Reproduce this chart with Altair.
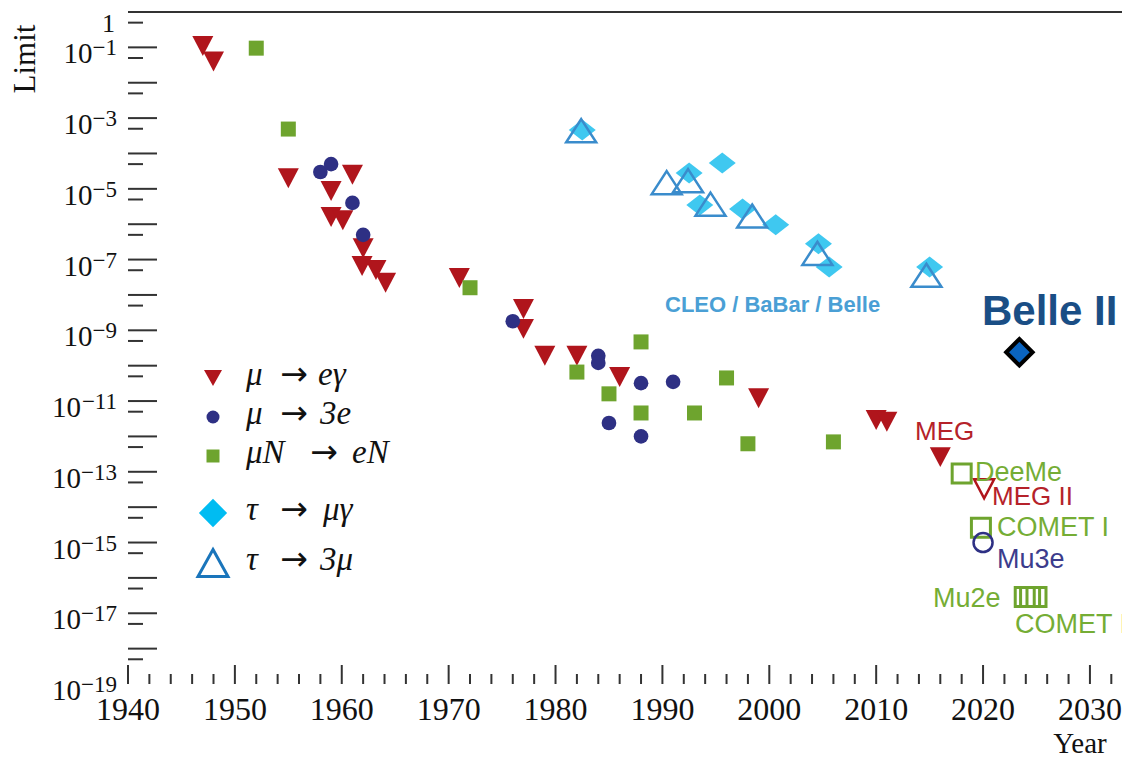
import altair as alt
import pandas as pd

# ---------------- data ----------------
# mu -> e gamma (filled red down-triangles)
meg_years = [1947, 1948, 1955, 1961, 1959, 1959, 1960.1, 1962, 1961.9, 1963.2, 1964.1,
             1971, 1977, 1977, 1979, 1982, 1986, 1999, 2010, 2011, 2016]
meg_vals = [1.1e-1, 4e-2, 2e-5, 2.5e-5, 8.7e-6, 1.6e-6, 1.3e-6, 2.1e-7, 6.6e-8, 5.1e-8, 2.2e-8,
            3e-8, 4e-9, 1.1e-9, 1.9e-10, 1.9e-10, 4.8e-11, 1.2e-11, 2.9e-12, 2.6e-12, 2.6e-13]

# mu -> 3e (navy circles)
m3e_years = [1958, 1959, 1961, 1962, 1976, 1984, 1984, 1988, 1991, 1985, 1988]
m3e_vals = [3e-5, 5e-5, 4e-6, 5e-7, 1.8e-9, 1.9e-10, 1.2e-10, 3.2e-11, 3.5e-11, 2.4e-12, 1e-12]

# mu N -> e N (green squares)
mue_years = [1952, 1955, 1972, 1982, 1988, 1985, 1988, 1993, 1996, 1998, 2006]
mue_vals = [9.5e-2, 4.9e-4, 1.6e-8, 6.6e-11, 4.7e-10, 1.6e-11, 4.6e-12, 4.6e-12, 4.5e-11, 6.2e-13, 7e-13]

# tau -> mu gamma (cyan diamonds)
tmg_years = [1982.5, 1992.5, 1995.6, 1993.5, 1997.5, 2000.6, 2004.6, 2005.6, 2015.0]
tmg_vals = [4.6e-4, 2.8e-5, 5.4e-5, 3.5e-6, 2.7e-6, 9.6e-7, 2.8e-7, 6.2e-8, 6.2e-8]

# tau -> 3 mu (open blue triangles)
t3m_years = [1982.4, 1990.4, 1992.4, 1994.5, 1998.4, 2004.5, 2014.7]
t3m_vals = [4.4e-4, 1.5e-5, 1.7e-5, 3.7e-6, 1.7e-6, 1.5e-7, 3.6e-8]

# future projections
megII_years = [2020.1]
megII_vals = [3.3e-14]
conv_future_years = [2018.0, 2019.8, 2023.9, 2024.4, 2025.0]
conv_future_vals = [9e-14, 2.6e-15, 2.9e-17, 2.9e-17, 2.9e-17]
mu3e_years = [2020.0]
mu3e_vals = [1e-15]
belle2_years = [2023.4]
belle2_vals = [2.4e-10]

# axis tick values
x_major = list(range(1940, 2031, 10))
x_minor = [y for y in range(1942, 2034, 2) if y % 10 != 0]
y_major_exp = list(range(0, -19, -1))
y_minor_exp = list(range(-1, -20, -1))
y_label_exp = list(range(-1, -20, -2))

# legend entries: (left part, right part)
legend_left = ["\u03bc", "\u03bc", "\u03bcN", "\u03c4", "\u03c4"]
legend_right = ["e\u03b3", "3e", "eN", "\u03bc\u03b3", "3\u03bc"]

# ---------------- layout ----------------
W, H = 994, 672
xscale = alt.Scale(domain=[1940, 2033.0], nice=False, zero=False)
yscale = alt.Scale(type="log", domain=[1e-19, 1], nice=False)
AX = "#333333"
INK = "#111111"

RED = "#b0151c"
NAVY = "#2e3084"
GREEN = "#6ea42e"
CYAN = "#3fc8f0"
TBLUE = "#3a8ccc"

TRI_DOWN = "M-1,-0.95L1,-0.95L0,0.95Z"
TRI_UP = "M0,-0.77L1,0.77L-1,0.77Z"
DIAM = "M0,-0.78L1,0L0,0.78L-1,0Z"


def pts(years, vals, shape, size, color=None, filled=True, stroke=None, sw=0, fill=None):
    df = pd.DataFrame({"year": years, "val": vals})
    props = dict(shape=shape, size=size, filled=filled, opacity=1, strokeWidth=sw)
    if filled:
        props["fill"] = fill if fill else color
        if stroke:
            props["stroke"] = stroke
    else:
        props["stroke"] = stroke if stroke else color
        props["fill"] = "transparent"
    return alt.Chart(df).mark_point(**props).encode(
        x=alt.X("year:Q", scale=xscale, axis=None),
        y=alt.Y("val:Q", scale=yscale, axis=None),
    )


def txt(text, x, y, color, size, font, weight="normal", align="left",
        baseline="middle", angle=0, style="normal"):
    return alt.Chart(pd.DataFrame({"t": [text]})).mark_text(
        align=align, baseline=baseline, font=font, fontSize=size,
        fontWeight=weight, color=color, angle=angle, fontStyle=style,
    ).encode(x=alt.value(x), y=alt.value(y), text="t:N")


def sym(x, y, shape, size, color, filled=True, sw=0):
    props = dict(shape=shape, size=size, filled=filled, opacity=1, strokeWidth=sw)
    if filled:
        props["fill"] = color
    else:
        props["stroke"] = color
        props["fill"] = "transparent"
    return alt.Chart(pd.DataFrame({"a": [0]})).mark_point(**props).encode(
        x=alt.value(x), y=alt.value(y))


# ---------- axes & ticks ----------
xmaj_df = pd.DataFrame({"year": x_major})
xmin_df = pd.DataFrame({"year": x_minor})
ymaj_df = pd.DataFrame({"val": [10.0 ** e for e in y_major_exp]})
ymin_df = pd.DataFrame({"val": [5 * 10.0 ** e for e in y_minor_exp]})

x_axis = alt.Axis(labels=False, ticks=False, domainColor=AX, domainWidth=2,
                  grid=False, title=None)
y_axis = alt.Axis(labels=False, ticks=False, domain=True, domainColor=AX,
                  domainWidth=2, grid=False, title=None)

xmaj = alt.Chart(xmaj_df).mark_rule(color=AX, strokeWidth=2).encode(
    x=alt.X("year:Q", scale=xscale, axis=x_axis),
    y=alt.value(H), y2=alt.value(H - 19))
xmin = alt.Chart(xmin_df).mark_rule(color=AX, strokeWidth=2).encode(
    x=alt.X("year:Q", scale=xscale, axis=None),
    y=alt.value(H), y2=alt.value(H - 10))
xlab = alt.Chart(xmaj_df).transform_calculate(
    lab="toString(datum.year)"
).mark_text(align="center", baseline="alphabetic", dy=36,
            font="Liberation Serif", fontSize=32, color=INK).encode(
    x=alt.X("year:Q", scale=xscale, axis=None),
    y=alt.value(H), text="lab:N")
ymaj = alt.Chart(ymaj_df).mark_rule(color=AX, strokeWidth=2).encode(
    y=alt.Y("val:Q", scale=yscale, axis=y_axis),
    x=alt.value(0), x2=alt.value(29))
ymin = alt.Chart(ymin_df).mark_rule(color=AX, strokeWidth=2).encode(
    y=alt.Y("val:Q", scale=yscale, axis=None),
    x=alt.value(0), x2=alt.value(15))
top_line = alt.Chart(pd.DataFrame({"a": [0]})).mark_rule(color=AX, strokeWidth=2).encode(
    x=alt.value(0), x2=alt.value(W), y=alt.value(0))

# y tick labels: "10" + raised exponent
ylab_df = pd.DataFrame({"e": y_label_exp})
ylab_df["val"] = [10.0 ** e for e in y_label_exp]
EXP_SIZE = 23
ten = alt.Chart(ylab_df).transform_calculate(
    nd="length(toString(abs(datum.e)))",
    xp=f"-11 - {EXP_SIZE}*(0.564 + 0.5*datum.nd)",
).mark_text(text="10", align="right", baseline="alphabetic", dy=16,
            font="Liberation Serif", fontSize=29, color=INK).encode(
    x=alt.X("xp:Q", scale=None),
    y=alt.Y("val:Q", scale=yscale, axis=None))
expo = alt.Chart(ylab_df).transform_calculate(
    lab="'\u2212' + toString(abs(datum.e))"
).mark_text(align="right", baseline="alphabetic", dy=8,
            font="Liberation Serif", fontSize=EXP_SIZE, color=INK).encode(
    x=alt.value(-11),
    y=alt.Y("val:Q", scale=yscale, axis=None),
    text="lab:N")
one = txt("1", -13, 20, INK, 26, "Liberation Serif", baseline="alphabetic",
          align="right")

limit_title = txt("Limit", -102, 47, INK, 31, "Liberation Serif", angle=270,
                  align="center")
year_title = txt("Year", 952, 741, INK, 29, "Liberation Serif", align="center",
                 baseline="alphabetic")

# ---------- data layers ----------
l_meg = pts(meg_years, meg_vals, TRI_DOWN, 441, RED)
l_m3e = pts(m3e_years, m3e_vals, "circle", 215, NAVY)
l_mue = pts(mue_years, mue_vals, "square", 225, GREEN)
l_tmg = pts(tmg_years, tmg_vals, DIAM, 729, CYAN)
l_t3m = pts(t3m_years, t3m_vals, TRI_UP, 900, TBLUE, filled=False, sw=2.5)
l_megII = pts(megII_years, megII_vals, TRI_DOWN, 400, RED, filled=False, sw=2.5)
l_conv = pts(conv_future_years, conv_future_vals, "square", 361, GREEN, filled=False, sw=3)
l_mu3e = pts(mu3e_years, mu3e_vals, "circle", 361, NAVY, filled=False, sw=2.5)
l_belle2 = pts(belle2_years, belle2_vals, "diamond", 700, fill="#0a64c0",
               stroke="#000000", sw=4)

# ---------- legend ----------
LEG_FONT = "Liberation Serif"
row_y = [366, 405, 444, 501, 551]
arrow_x = [166, 166, 196, 166, 166]
right_x = [190, 192, 224, 195, 192]
legend = [
    sym(85, row_y[0], "M-1,-0.9L1,-0.9L0,0.9Z", 324, RED),
    sym(85, row_y[1], "circle", 169, NAVY),
    sym(85, row_y[2], "square", 169, GREEN),
    sym(85, row_y[3], "diamond", 800, "#00bcf2"),
    sym(85, row_y[4], "M0,-0.9L1,0.9L-1,0.9Z", 900, "#1a75bb", filled=False, sw=3),
]
for i in range(5):
    legend.append(txt(legend_left[i], 118, row_y[i] + 7, INK, 33, LEG_FONT,
                      style="italic", baseline="alphabetic"))
    legend.append(txt("\u2192", arrow_x[i], row_y[i] + 7, INK, 33, "DejaVu Sans",
                      align="center", baseline="alphabetic"))
    legend.append(txt(legend_right[i], right_x[i], row_y[i] + 7, INK, 33, LEG_FONT,
                      style="italic", baseline="alphabetic"))

# ---------- annotations ----------
SANS = "Liberation Sans"
LG = "#75ad35"
annots = [
    txt("CLEO / BaBar / Belle", 537, 293, "#4a9fd5", 22, SANS, weight="bold"),
    txt("Belle II", 854, 300, "#1a4e85", 42, SANS, weight="bold"),
    txt("MEG", 787, 420, "#b5222a", 26, SANS),
    txt("DeeMe", 847, 461, LG, 27, SANS),
    txt("MEG II", 864, 485, "#b5222a", 26, SANS),
    txt("COMET I", 869, 516, LG, 27, SANS),
    txt("Mu3e", 869, 548, "#3c3c8c", 27, SANS),
    txt("Mu2e", 805, 587, LG, 27, SANS),
    txt("COMET II", 887, 613, LG, 27, SANS),
]

chart = alt.layer(
    xmaj, xmin, xlab, ymaj, ymin, top_line, ten, expo, one, limit_title, year_title,
    l_meg, l_m3e, l_mue, l_tmg, l_t3m, l_megII, l_conv, l_mu3e, l_belle2,
    *legend, *annots,
).properties(
    width=W, height=H,
    autosize=alt.AutoSizeParams(type="none"),
    padding={"left": 120, "top": 4, "right": 0, "bottom": 73},
).configure_view(stroke=None)

chart.save("out.html", embed_options={"renderer": "svg", "actions": False})
